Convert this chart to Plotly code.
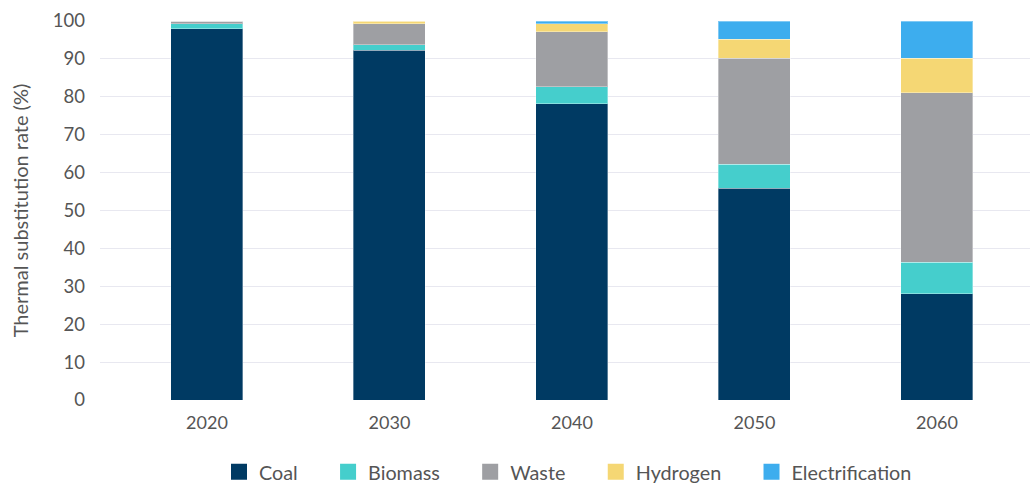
import plotly.graph_objects as go

years = ["2020", "2030", "2040", "2050", "2060"]
coal = [98.0, 92.3, 78.2, 55.9, 28.0]
biomass = [1.3, 1.5, 4.4, 6.3, 8.3]
waste = [0.7, 5.5, 14.6, 28.0, 44.8]
hydrogen = [0.0, 0.7, 2.1, 5.0, 9.1]
electrification = [0.0, 0.0, 0.7, 4.8, 9.8]

series = [
    ("Coal", coal, "#003a63"),
    ("Biomass", biomass, "#45cecc"),
    ("Waste", waste, "#9e9fa3"),
    ("Hydrogen", hydrogen, "#f5d774"),
    ("Electrification", electrification, "#3dadee"),
]

NB = "\u00a0"
fig = go.Figure()
for name, vals, col in series:
    fig.add_trace(go.Bar(
        x=years, y=vals, name=name, showlegend=False,
        marker=dict(color=col, line=dict(color="rgba(255,255,255,0.35)", width=1)),
        width=0.395,
    ))
# legend-only entries with larger square swatches
for i, (name, vals, col) in enumerate(series):
    label = name + (NB * 5 if i < len(series) - 1 else "")
    fig.add_trace(go.Scatter(
        x=[None], y=[None], mode="markers", name=label,
        marker=dict(symbol="square", size=16, color=col),
        hoverinfo="skip",
    ))

fig.update_layout(
    barmode="stack",
    width=1033, height=486,
    margin=dict(l=100, r=3, t=21, b=86, autoexpand=False),
    paper_bgcolor="white", plot_bgcolor="white",
    font=dict(family="Lato, 'Noto Sans', sans-serif", size=18, color="#555555"),
    showlegend=True,
    legend=dict(orientation="h", xref="container", yref="container",
                x=219 / 1033, xanchor="left", y=14 / 486, yanchor="middle",
                font=dict(size=19.8, color="#555555"), traceorder="normal",
                itemwidth=30, itemsizing="trace"),
    xaxis=dict(type="category", range=[-0.586, 4.51], showgrid=False, ticks="",
               showline=False, ticklabelstandoff=10,
               tickfont=dict(size=18, color="#555555")),
    yaxis=dict(range=[0, 100], dtick=10, showgrid=True, gridcolor="#e8e8f0",
               gridwidth=1, zeroline=False, ticks="", ticklabelstandoff=14,
               tickfont=dict(size=18.5, color="#555555"),
               title=dict(text="Thermal substitution rate (%)",
                          font=dict(size=20, color="#555555"), standoff=18)),
)

fig.write_html("out.html", config={"displayModeBar": False},
               post_script="document.body.style.margin='0';document.body.style.overflow='hidden';")
